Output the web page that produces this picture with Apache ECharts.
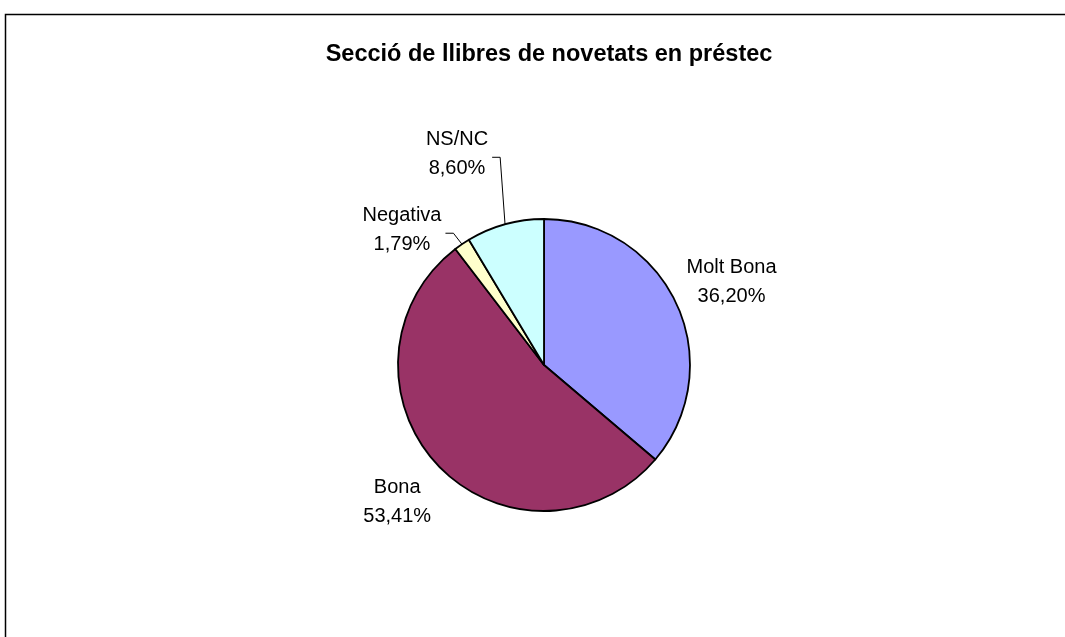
<!DOCTYPE html>
<html>
<head>
<meta charset="utf-8">
<title>Secció de llibres de novetats en préstec</title>
<script src="https://cdn.jsdelivr.net/npm/echarts@6/dist/echarts.min.js"></script>
<style>
  html, body { margin: 0; padding: 0; background: #ffffff; }
  #chart { width: 1065px; height: 637px; }
</style>
</head>
<body>
<div id="chart"></div>
<script>
// Survey answers (percent of respondents)
const categories = ['Molt Bona', 'Bona', 'Negativa', 'NS/NC'];
const values = [36.20, 53.41, 1.79, 8.60];
const colors = ['#9999FF', '#993366', '#FFFFCC', '#CCFFFF'];

// Pie geometry and label placement (label centre relative to the slice's outer edge midpoint)
const PIE_CENTER = [544, 365];
const PIE_RADIUS = 146;
const LABEL_OFFSETS = [[55, -22], [-41, 36], [-60, -14], [-48, -70]];
const LEADER_LINE = [false, false, true, true];

const FONT = 'Arial, "Liberation Sans", Helvetica, sans-serif';

const total = values.reduce((a, b) => a + b, 0);
// Angle (clockwise from 12 o'clock) at the middle of each slice
const midAngles = [];
let acc = 0;
for (const v of values) {
  midAngles.push(2 * Math.PI * (acc + v / 2) / total);
  acc += v;
}

function pct(v) {
  return v.toFixed(2).replace('.', ',') + '%';
}

const chart = echarts.init(document.getElementById('chart'), null, { renderer: 'canvas' });

chart.setOption({
  backgroundColor: '#ffffff',
  animation: false,
  title: {
    text: 'Secció de llibres de novetats en préstec',
    left: 544,
    textAlign: 'center',
    top: 38,
    textStyle: { fontFamily: FONT, fontSize: 23.5, fontWeight: 'bold', color: '#000000' }
  },
  graphic: [{
    type: 'rect',
    shape: { x: 5.5, y: 14.5, width: 1100, height: 700 },
    style: { fill: 'none', stroke: '#000000', lineWidth: 1.5 },
    silent: true
  }],
  series: [{
    type: 'pie',
    center: PIE_CENTER,
    radius: PIE_RADIUS,
    startAngle: 90,
    clockwise: true,
    avoidLabelOverlap: false,
    silent: true,
    itemStyle: { borderColor: '#000000', borderWidth: 1.8 },
    label: {
      show: true,
      position: 'outside',
      fontFamily: FONT,
      fontSize: 20,
      lineHeight: 29,
      color: '#000000',
      formatter: p => p.name + '\n' + pct(p.value)
    },
    labelLine: {
      show: true,
      length: 10,
      length2: 8,
      smooth: false,
      lineStyle: { color: '#000000', width: 1 }
    },
    labelLayout: function (p) {
      const i = p.dataIndex;
      const a = midAngles[i];
      const ex = PIE_CENTER[0] + PIE_RADIUS * Math.sin(a);
      const ey = PIE_CENTER[1] - PIE_RADIUS * Math.cos(a);
      const lx = ex + LABEL_OFFSETS[i][0];
      const ly = ey + LABEL_OFFSETS[i][1];
      const out = { x: lx, y: ly, align: 'center', verticalAlign: 'middle' };
      if (LEADER_LINE[i]) {
        const tx = lx + p.labelRect.width / 2 + 4;
        const ty = ly + 3;
        const bx = Math.min(tx + 8, ex);
        out.labelLinePoints = [[ex, ey], [bx, ty], [tx, ty]];
      }
      return out;
    },
    data: categories.map((name, i) => ({
      name: name,
      value: values[i],
      itemStyle: { color: colors[i] },
      labelLine: { show: LEADER_LINE[i] }
    }))
  }]
});
</script>
</body>
</html>
